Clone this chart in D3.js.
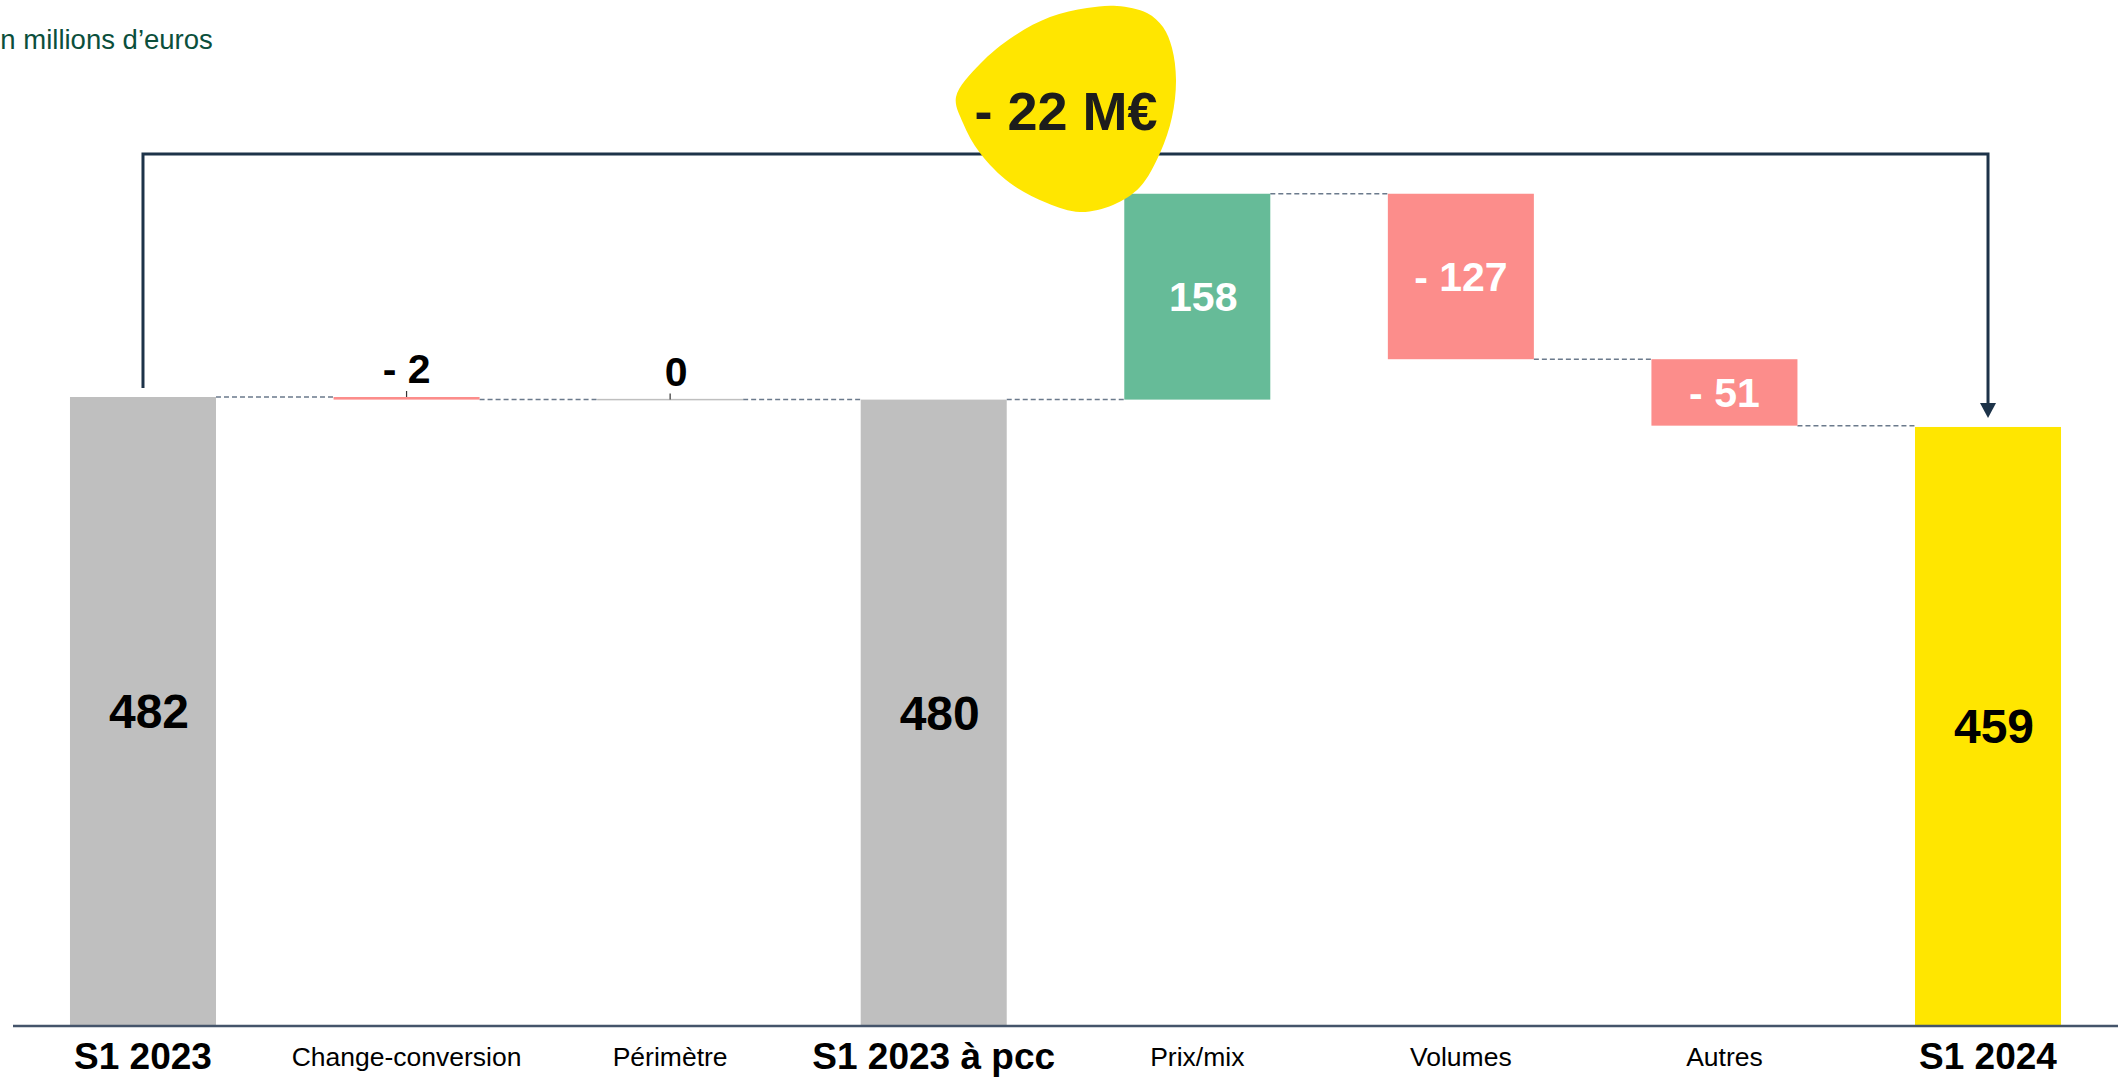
<!DOCTYPE html>
<html>
<head>
<meta charset="utf-8">
<script src="https://cdnjs.cloudflare.com/ajax/libs/d3/7.8.5/d3.min.js"></script>
<style>
  body { margin: 0; background: #fff; }
  svg { display: block; font-family: "Liberation Sans", Arial, sans-serif; }
</style>
</head>
<body>
<div id="chart"></div>
<script>
var categories = ["S1 2023", "Change-conversion", "Périmètre", "S1 2023 à pcc", "Prix/mix", "Volumes", "Autres", "S1 2024"];
var values = [482, -2, 0, 480, 158, -127, -51, 459];
var kinds = ["total", "delta", "delta", "total", "delta", "delta", "delta", "total"];
var totalColors = ["#bfbfbf", "#bfbfbf", "#bfbfbf", "#bfbfbf", "#bfbfbf", "#bfbfbf", "#bfbfbf", "#ffe600"];
var variationLabel = "- 22 M€";

var w = 2118, h = 1082;
var svg = d3.select("#chart").append("svg").attr("width", w).attr("height", h);

// build waterfall steps
var running = 0;
var steps = categories.map(function (c, i) {
  var v = values[i], y0, y1;
  if (kinds[i] == "total") {
    y0 = 0; y1 = v; running = v;
  } else {
    y0 = running; y1 = running + v; running = running + v;
  }
  return { cat: c, v: v, kind: kinds[i], lo: Math.min(y0, y1), hi: Math.max(y0, y1), end: y1, i: i };
});

var x = d3.scaleBand().domain(categories).range([11.2, 2119.8])
  .paddingInner(0.446).paddingOuter(0.223);
var y = d3.scaleLinear().domain([0, 482]).range([1025, 397]);

function fmt(v) {
  return v < 0 ? "- " + Math.abs(v) : String(v);
}
function barColor(d) {
  if (d.kind == "total") return totalColors[d.i];
  if (d.v > 0) return "#66bb98";
  if (d.v < 0) return "#fc8d8b";
  return "#bfbfbf";
}

// title (partly cut at the left edge, as in the source slide)
svg.append("text").attr("x", -18).attr("y", 49)
  .style("font-size", "27.5px").style("fill", "#0b4f3c")
  .text("En millions d’euros");

// dashed connectors
var links = steps.slice(0, -1).map(function (d, i) {
  return { x1: x(d.cat) + x.bandwidth(), x2: x(steps[i + 1].cat), v: d.end };
});
svg.selectAll("line.link").data(links).enter().append("line")
  .attr("class", "link")
  .attr("x1", function (d) { return d.x1; })
  .attr("x2", function (d) { return d.x2; })
  .attr("y1", function (d) { return y(d.v); })
  .attr("y2", function (d) { return y(d.v); })
  .style("stroke", "#6b7a8c").style("stroke-width", 1.5)
  .style("stroke-dasharray", "5,3");

// bars
svg.selectAll("rect.bar").data(steps).enter().append("rect")
  .attr("class", "bar")
  .attr("x", function (d) { return x(d.cat); })
  .attr("width", x.bandwidth())
  .attr("y", function (d) { return d.hi == d.lo ? y(d.hi) - 0.75 : y(d.hi); })
  .attr("height", function (d) { return Math.max(1.5, y(d.lo) - y(d.hi)); })
  .style("fill", barColor);

// axis line
svg.append("line").attr("x1", 13).attr("x2", w).attr("y1", y(0) + 1).attr("y2", y(0) + 1)
  .style("stroke", "#44546a").style("stroke-width", 2.5);

// value labels
function small(d) { return y(d.lo) - y(d.hi) < 30; }
svg.selectAll("text.val").data(steps).enter().append("text")
  .attr("class", "val")
  .attr("text-anchor", "middle")
  .attr("x", function (d) { return x(d.cat) + x.bandwidth() / 2 + (d.v >= 0 ? 6 : 0); })
  .attr("y", function (d) {
    if (small(d)) return y(d.hi) - 14;
    return (y(d.hi) + y(d.lo)) / 2;
  })
  .attr("dy", function (d) { return small(d) ? 0 : "0.36em"; })
  .style("font-weight", "bold")
  .style("font-size", function (d) { return d.kind == "total" ? "48px" : "41px"; })
  .style("fill", function (d) { return d.kind == "total" || small(d) ? "#000" : "#fff"; })
  .text(function (d) { return fmt(d.v); });

// small leader ticks for tiny bars
svg.selectAll("line.lead").data(steps.filter(small)).enter().append("line")
  .attr("class", "lead")
  .attr("x1", function (d) { return x(d.cat) + x.bandwidth() / 2; })
  .attr("x2", function (d) { return x(d.cat) + x.bandwidth() / 2; })
  .attr("y1", function (d) { return y(d.hi) - 6; })
  .attr("y2", function (d) { return y(d.hi); })
  .style("stroke", "#333").style("stroke-width", 1.2);

// category labels
svg.selectAll("text.cat").data(steps).enter().append("text")
  .attr("class", "cat")
  .attr("text-anchor", "middle")
  .attr("x", function (d) { return x(d.cat) + x.bandwidth() / 2; })
  .attr("y", function (d) { return d.kind == "total" ? 1069 : 1066; })
  .style("font-size", function (d) { return d.kind == "total" ? "37px" : "26.5px"; })
  .style("font-weight", function (d) { return d.kind == "total" ? "bold" : "normal"; })
  .style("fill", "#000")
  .text(function (d) { return d.cat; });

// bracket from first to last total
var xa = x(categories[0]) + x.bandwidth() / 2;
var xb = x(categories[categories.length - 1]) + x.bandwidth() / 2;
var yTop = 154;
svg.append("path")
  .attr("d", "M" + xa + "," + (y(values[0]) - 9) + "V" + yTop + "H" + xb + "V" + (y(values[7]) - 20))
  .style("fill", "none").style("stroke", "#1d3349").style("stroke-width", 3);
svg.append("path")
  .attr("d", "M" + (xb - 8) + "," + (y(values[7]) - 24) + "L" + (xb + 8) + "," + (y(values[7]) - 24) +
    "L" + xb + "," + (y(values[7]) - 9) + "Z")
  .style("fill", "#1d3349");

// yellow blob with the variation
var blob = [[956, 97], [980, 64], [1014, 36], [1050, 17], [1087, 8], [1117, 6], [1147, 13], [1163, 27],
  [1172, 48], [1176, 80], [1172, 117], [1160, 153], [1140, 187], [1113, 205], [1080, 212],
  [1047, 203], [1010, 183], [980, 153], [963, 123]];
svg.append("path")
  .attr("d", d3.line().curve(d3.curveCatmullRomClosed)(blob))
  .style("fill", "#ffe600");
svg.append("text").attr("x", 1066).attr("y", 130).attr("text-anchor", "middle")
  .style("font-size", "54px").style("font-weight", "bold").style("fill", "#1d1d1b")
  .text(variationLabel);
</script>
</body>
</html>
